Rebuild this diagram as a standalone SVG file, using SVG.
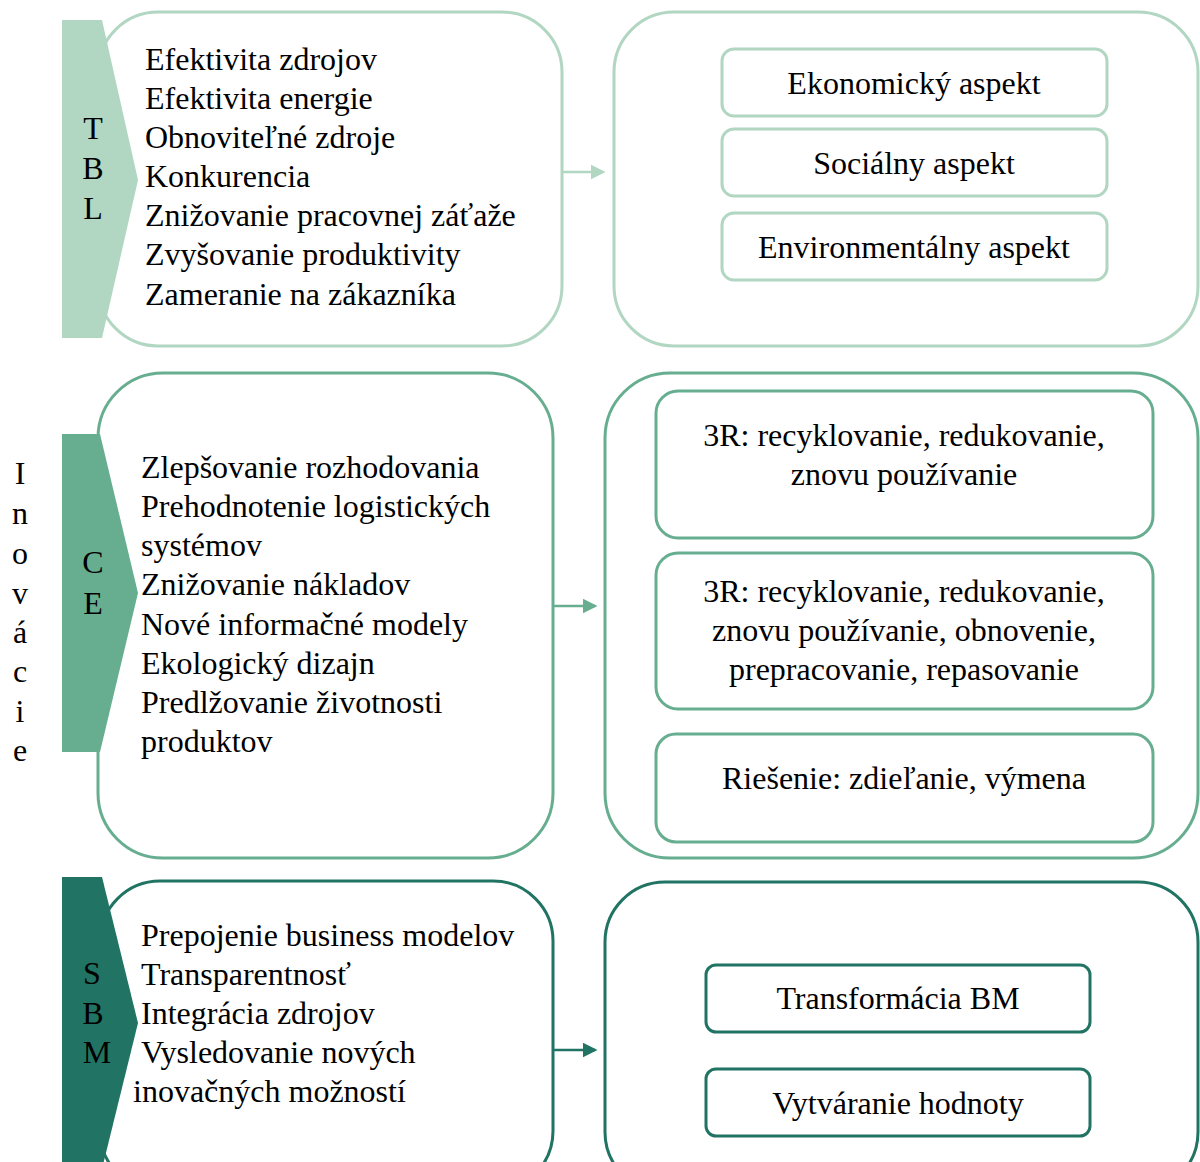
<svg xmlns="http://www.w3.org/2000/svg" width="1200" height="1162" viewBox="0 0 1200 1162">
<style>
text{font-family:"Liberation Serif","Times New Roman",serif;font-size:32px;fill:#000}
.c{text-anchor:middle}
.w1{fill:#fff;stroke:#b1d6c2;stroke-width:3}
.w2{fill:#fff;stroke:#67ae90;stroke-width:3}
.w3{fill:#fff;stroke:#217463;stroke-width:3}
</style>
<defs>
<marker id="a1" markerWidth="6" markerHeight="6" refX="5" refY="3" orient="auto" markerUnits="strokeWidth"><path d="M0,0 L6,3 L0,6z" fill="#b1d6c2"/></marker>
<marker id="a2" markerWidth="6" markerHeight="6" refX="5" refY="3" orient="auto" markerUnits="strokeWidth"><path d="M0,0 L6,3 L0,6z" fill="#67ae90"/></marker>
<marker id="a3" markerWidth="6" markerHeight="6" refX="5" refY="3" orient="auto" markerUnits="strokeWidth"><path d="M0,0 L6,3 L0,6z" fill="#217463"/></marker>
</defs>
<rect width="1200" height="1162" fill="#fff"/>

<g id="inovacie">
<text class="c" x="20" y="484">I</text>
<text class="c" x="20" y="524">n</text>
<text class="c" x="20" y="564">o</text>
<text class="c" x="20" y="604">v</text>
<text class="c" x="20" y="643">á</text>
<text class="c" x="20" y="682">c</text>
<text class="c" x="20" y="722">i</text>
<text class="c" x="20" y="761">e</text>
</g>

<g id="tbl-list">
<rect class="w1" x="98" y="12" width="464" height="334" rx="60"/>
<text x="145" y="70">Efektivita zdrojov</text>
<text x="145" y="109">Efektivita energie</text>
<text x="145" y="148">Obnoviteľné zdroje</text>
<text x="145" y="187">Konkurencia</text>
<text x="145" y="226">Znižovanie pracovnej záťaže</text>
<text x="145" y="265">Zvyšovanie produktivity</text>
<text x="145" y="305">Zameranie na zákazníka</text>
</g>
<g id="tbl-tab">
<polygon points="62,20 102,20 138,180 102,338 62,338" fill="#b1d6c2"/>
<text class="c" x="93" y="139">T</text>
<text class="c" x="93" y="179">B</text>
<text class="c" x="93" y="219">L</text>
</g>
<g id="tbl-right">
<rect class="w1" x="614" y="12" width="584" height="334" rx="60"/>
<rect class="w1" x="722" y="49" width="385" height="67" rx="12"/>
<text class="c" x="914" y="94">Ekonomický aspekt</text>
<rect class="w1" x="722" y="129" width="385" height="67" rx="12"/>
<text class="c" x="914" y="174">Sociálny aspekt</text>
<rect class="w1" x="722" y="213" width="385" height="67" rx="12"/>
<text class="c" x="914" y="258">Environmentálny aspekt</text>
</g>

<g id="ce-list">
<rect class="w2" x="98" y="373" width="455" height="485" rx="65"/>
<text x="141" y="478">Zlepšovanie rozhodovania</text>
<text x="141" y="517">Prehodnotenie logistických</text>
<text x="141" y="556">systémov</text>
<text x="141" y="595">Znižovanie nákladov</text>
<text x="141" y="635">Nové informačné modely</text>
<text x="141" y="674">Ekologický dizajn</text>
<text x="141" y="713">Predlžovanie životnosti</text>
<text x="141" y="752">produktov</text>
</g>
<g id="ce-tab">
<polygon points="62,434 100,434 138,593 100,752 62,752" fill="#67ae90"/>
<text class="c" x="93" y="573">C</text>
<text class="c" x="93" y="614">E</text>
</g>
<g id="ce-right">
<rect class="w2" x="605" y="373" width="593" height="485" rx="65"/>
<rect class="w2" x="656" y="391" width="497" height="147" rx="22"/>
<text class="c" x="904" y="446">3R: recyklovanie, redukovanie,</text>
<text class="c" x="904" y="485">znovu používanie</text>
<rect class="w2" x="656" y="553" width="497" height="156" rx="22"/>
<text class="c" x="904" y="602">3R: recyklovanie, redukovanie,</text>
<text class="c" x="904" y="641">znovu používanie, obnovenie,</text>
<text class="c" x="904" y="680">prepracovanie, repasovanie</text>
<rect class="w2" x="656" y="734" width="497" height="108" rx="20"/>
<text class="c" x="904" y="789">Riešenie: zdieľanie, výmena</text>
</g>

<g id="sbm-list">
<rect class="w3" x="100" y="881" width="453" height="310" rx="60"/>
<text x="141" y="946">Prepojenie business modelov</text>
<text x="141" y="985">Transparentnosť</text>
<text x="141" y="1024">Integrácia zdrojov</text>
<text x="141" y="1063">Vysledovanie nových</text>
<text x="133" y="1102">inovačných možností</text>
</g>
<g id="sbm-tab">
<polygon points="62,877 102,877 138,1023 102,1169 62,1169" fill="#217463"/>
<text class="c" x="92" y="984">S</text>
<text class="c" x="93" y="1024">B</text>
<text class="c" x="97" y="1063">M</text>
</g>
<g id="sbm-right">
<rect class="w3" x="605" y="882" width="593" height="310" rx="60"/>
<rect class="w3" x="706" y="965" width="384" height="67" rx="10"/>
<text class="c" x="898" y="1009">Transformácia BM</text>
<rect class="w3" x="706" y="1069" width="384" height="67" rx="10"/>
<text class="c" x="898" y="1114">Vytváranie hodnoty</text>
</g>

<g id="connectors">
<line x1="562" y1="172" x2="603" y2="172" stroke="#b1d6c2" stroke-width="2.5" marker-end="url(#a1)"/>
<line x1="553" y1="606" x2="595" y2="606" stroke="#67ae90" stroke-width="2.5" marker-end="url(#a2)"/>
<line x1="553" y1="1050" x2="595" y2="1050" stroke="#217463" stroke-width="2.5" marker-end="url(#a3)"/>
</g>
</svg>
